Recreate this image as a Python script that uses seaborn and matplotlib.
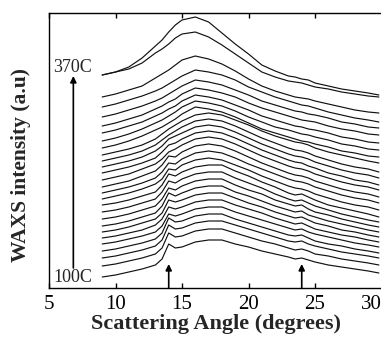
import matplotlib
matplotlib.use("Agg")
import matplotlib.pyplot as plt
import seaborn as sns
import pandas as pd

# Scattering angle grid (degrees)
angle = [9, 10, 11, 12, 13, 13.5, 14, 14.5, 15, 16, 17, 18, 19, 20, 21, 22,
         23, 23.5, 24, 24.5, 25, 26, 27, 28, 29, 29.8]

# WAXS intensity (a.u., stacked) for each temperature
t100 = [8, 10, 13, 16, 20, 26, 41, 37, 38, 43, 45, 45, 41, 38, 34, 31, 28, 26, 27, 25, 23, 20, 18, 16, 14, 12]
t110 = [19, 21, 24, 27, 31, 37, 52, 48, 49, 54, 56, 56, 52, 48, 44, 41, 37, 35, 36, 34, 31, 29, 26, 24, 22, 20]
t120 = [27, 29, 32, 35, 39, 45, 60, 56, 57, 62, 64, 64, 60, 56, 52, 48, 44, 43, 44, 41, 39, 36, 33, 31, 29, 27]
t130 = [34, 36, 39, 42, 46, 52, 67, 63, 64, 69, 71, 71, 66, 62, 58, 54, 50, 49, 50, 47, 44, 41, 39, 36, 34, 32]
t140 = [41, 43, 46, 49, 53, 59, 71, 69, 71, 76, 78, 78, 73, 69, 65, 61, 57, 55, 56, 53, 51, 48, 45, 42, 40, 38]
t150 = [47, 49, 52, 55, 60, 66, 78, 76, 78, 83, 85, 85, 80, 76, 72, 67, 63, 61, 62, 59, 56, 53, 50, 48, 45, 43]
t160 = [53, 55, 58, 62, 66, 72, 85, 83, 85, 90, 92, 92, 87, 82, 78, 73, 69, 67, 68, 65, 62, 59, 55, 53, 50, 48]
t170 = [59, 61, 64, 68, 72, 79, 92, 89, 92, 97, 99, 99, 93, 89, 84, 79, 75, 73, 74, 70, 68, 64, 61, 58, 55, 53]
t180 = [66, 68, 71, 75, 79, 86, 97, 95, 99, 104, 106, 106, 100, 95, 91, 85, 81, 79, 80, 76, 73, 70, 66, 63, 60, 58]
t190 = [73, 75, 78, 82, 86, 93, 104, 102, 106, 111, 113, 113, 107, 102, 97, 91, 86, 84, 85, 82, 79, 75, 71, 68, 65, 63]
t200 = [80, 82, 85, 89, 93, 100, 111, 109, 113, 118, 120, 120, 114, 109, 103, 98, 92, 90, 91, 88, 85, 80, 77, 74, 71, 68]
t210 = [86, 89, 92, 96, 101, 106, 116, 115, 120, 125, 127, 125, 120, 115, 109, 104, 99, 97, 96, 94, 91, 87, 83, 80, 78, 75]
t220 = [92, 95, 98, 102, 107, 113, 122, 121, 126, 132, 134, 132, 127, 121, 116, 111, 106, 104, 103, 101, 98, 94, 90, 87, 85, 82]
t230 = [98, 101, 104, 109, 114, 120, 129, 128, 133, 139, 141, 139, 134, 128, 122, 117, 112, 110, 109, 107, 104, 100, 96, 93, 91, 88]
t240 = [105, 108, 111, 116, 121, 126, 133, 136, 140, 146, 148, 146, 141, 135, 129, 124, 119, 117, 116, 114, 111, 107, 103, 100, 98, 95]
t250 = [112, 115, 118, 122, 127, 133, 140, 142, 146, 152, 154, 152, 147, 141, 135, 130, 125, 123, 122, 119, 117, 112, 109, 105, 103, 100]
t260 = [118, 121, 124, 128, 134, 139, 146, 149, 152, 158, 160, 158, 153, 147, 141, 136, 131, 129, 128, 126, 123, 119, 115, 112, 110, 107]
t270 = [124, 127, 130, 134, 140, 145, 150, 154, 158, 164, 166, 164, 159, 153, 147, 142, 137, 135, 134, 132, 129, 125, 121, 118, 116, 113]
t280 = [130, 133, 136, 140, 146, 151, 156, 160, 164, 170, 172, 170, 165, 160, 154, 149, 145, 143, 142, 140, 137, 133, 130, 127, 124, 122]
t290 = [137, 140, 144, 149, 155, 158, 162, 166, 171, 178, 176, 173, 168, 162, 156, 152, 148, 146, 144, 143, 141, 138, 134, 132, 129, 128]
t300 = [144, 147, 151, 156, 162, 165, 169, 173, 178, 184, 182, 179, 174, 168, 163, 158, 155, 153, 151, 150, 148, 145, 141, 139, 136, 135]
t310 = [152, 155, 159, 163, 169, 172, 176, 179, 184, 190, 188, 185, 180, 175, 169, 165, 161, 159, 158, 156, 155, 152, 148, 146, 143, 142]
t320 = [159, 162, 166, 170, 176, 179, 183, 186, 191, 197, 195, 192, 188, 182, 177, 173, 169, 167, 165, 164, 163, 159, 156, 154, 151, 150]
t330 = [168, 171, 175, 179, 184, 187, 191, 195, 199, 205, 203, 200, 195, 190, 184, 180, 176, 174, 173, 171, 170, 167, 163, 161, 158, 157]
t340 = [178, 181, 185, 189, 194, 197, 201, 205, 209, 215, 213, 210, 205, 198, 193, 188, 184, 182, 180, 179, 177, 173, 170, 167, 165, 163]
t350 = [188, 191, 195, 199, 207, 211, 215, 220, 225, 229, 226, 221, 214, 206, 199, 194, 190, 188, 187, 186, 184, 181, 178, 175, 173, 172]
t360 = [210, 213, 216, 222, 232, 236, 241, 247, 251, 253, 248, 240, 231, 222, 213, 208, 204, 203, 202, 200, 198, 196, 193, 191, 189, 188]
t370 = [210, 213, 218, 227, 239, 245, 253, 260, 265, 268, 263, 252, 241, 231, 220, 214, 209, 208, 206, 205, 202, 199, 196, 194, 192, 190]

temperatures = [100, 110, 120, 130, 140, 150, 160, 170, 180, 190, 200, 210, 220, 230,
                240, 250, 260, 270, 280, 290, 300, 310, 320, 330, 340, 350, 360, 370]
curves = [t100, t110, t120, t130, t140, t150, t160, t170, t180, t190, t200, t210, t220, t230,
          t240, t250, t260, t270, t280, t290, t300, t310, t320, t330, t340, t350, t360, t370]

x_ticks = [5, 10, 15, 20, 25, 30]
arrow_angles = [14, 24]
label_low, label_high = "100C", "370C"

rows = []
for T, vals in zip(temperatures, curves):
    for a, v in zip(angle, vals):
        rows.append({"angle": a, "intensity": v, "T": T})
df = pd.DataFrame(rows)

sns.set_style("ticks")
plt.rcParams["font.family"] = ["Liberation Serif", "DejaVu Serif"]

fig = plt.figure(figsize=(3.81, 3.41), dpi=100)
ax = fig.add_axes([49 / 381, 52.7 / 341, 334 / 381, 275.6 / 341])

sns.lineplot(data=df, x="angle", y="intensity", hue="T", units="T", estimator=None,
             palette=["#111111"] * len(temperatures), legend=False, linewidth=0.85,
             sort=False, ax=ax)

ax.set_xlim(5, 30.11)
ax.set_ylim(-3.3, 272.3)
ax.set_xticks(x_ticks)
ax.set_xticklabels([str(t) for t in x_ticks], fontsize=15)
ax.get_xticklabels()[-1].set_horizontalalignment("right")
ax.set_yticks([])
ax.tick_params(axis="x", which="both", direction="in", top=True, length=3.5,
               width=1.0, pad=4.5, colors="black")
for s in ["left", "bottom", "top"]:
    ax.spines[s].set_linewidth(1.0)
    ax.spines[s].set_color("black")
ax.spines["right"].set_visible(False)

ax.set_xlabel("Scattering Angle (degrees)", fontsize=16, fontweight="bold", labelpad=0)
ax.set_ylabel("WAXS intensity (a.u)", fontsize=15.5, fontweight="bold")
ax.yaxis.set_label_coords(-0.055, 0.447)

ax.text(5.3, 217, label_high, fontsize=13, ha="left", va="center")
ax.text(5.3, 8, label_low, fontsize=13, ha="left", va="center")

arrow_kw = dict(arrowstyle="-|>", color="black", lw=1.2, mutation_scale=9,
                shrinkA=0, shrinkB=0)
ax.annotate("", xy=(6.83, 209), xytext=(6.83, 17), arrowprops=arrow_kw)
for a in arrow_angles:
    ax.annotate("", xy=(a, 21), xytext=(a, -3.3), arrowprops=arrow_kw,
                annotation_clip=False)

fig.savefig("out.png", dpi=100)
